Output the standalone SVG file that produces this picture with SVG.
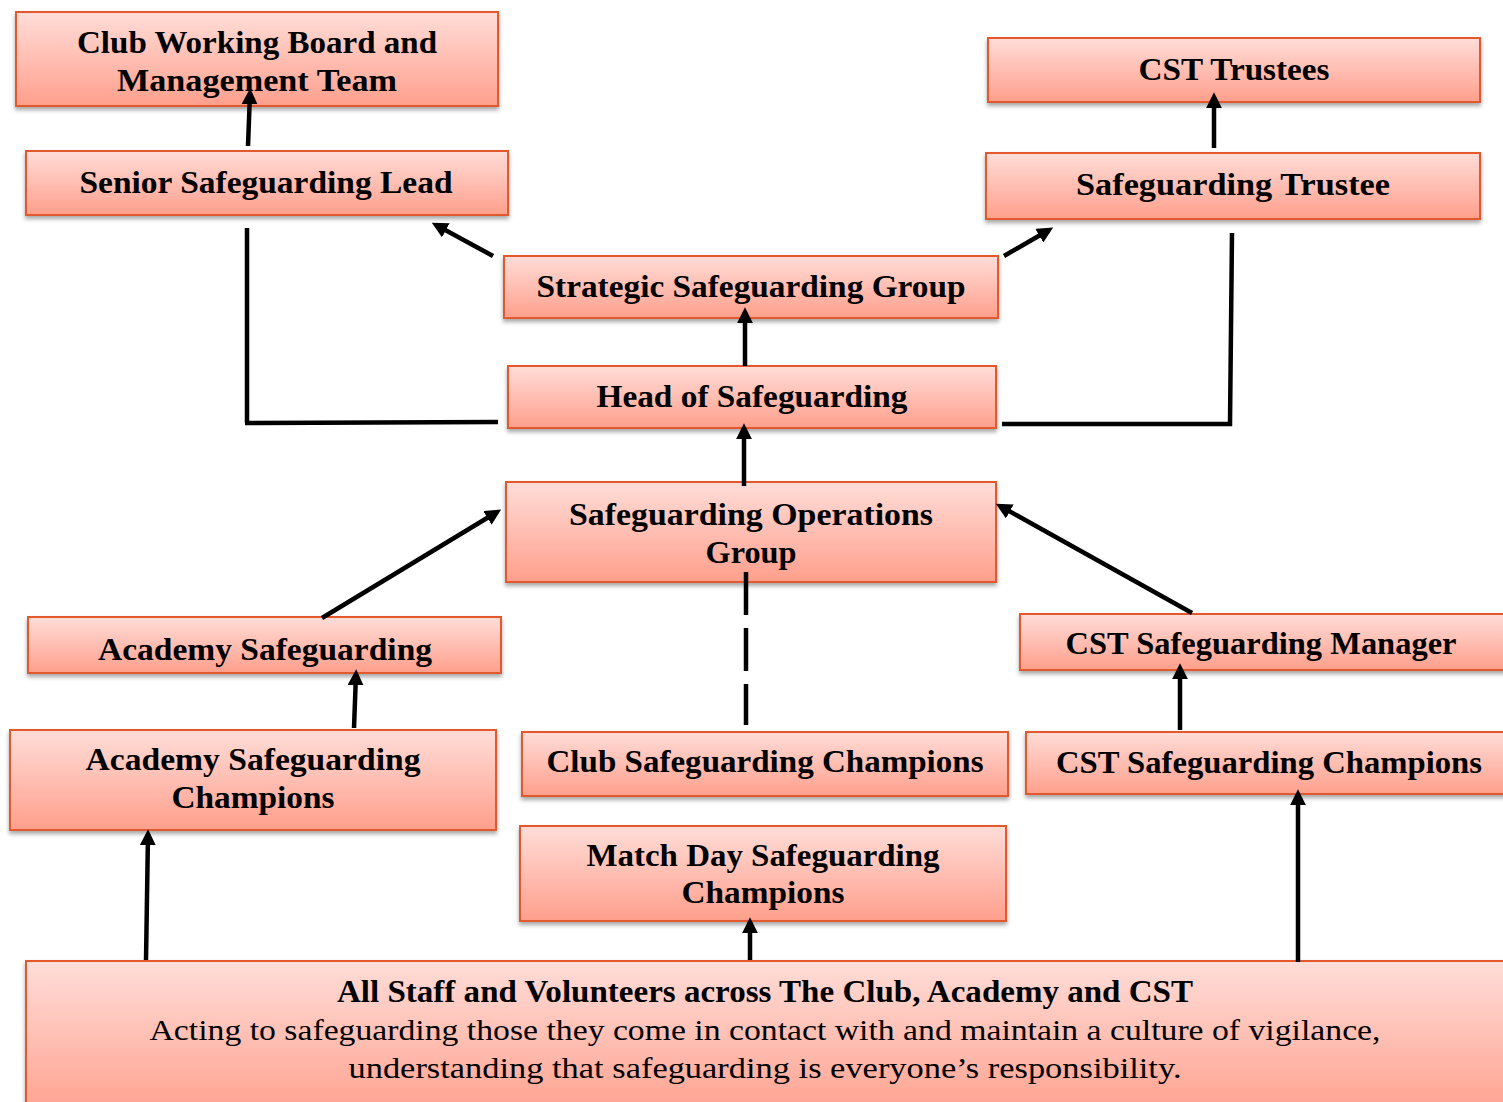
<svg xmlns="http://www.w3.org/2000/svg" width="1503" height="1102" viewBox="0 0 1503 1102">
<style>
.box{fill:url(#g);stroke:#E4592E;stroke-width:2;filter:url(#sh)}
.t{font-family:"Liberation Serif","Times New Roman",serif;font-weight:bold;font-size:32px;fill:#000;text-anchor:middle}
.r{font-family:"Liberation Serif","Times New Roman",serif;font-size:29px;fill:#000;text-anchor:middle}
.c{stroke:#000;stroke-width:4.5;fill:none}
.a{marker-end:url(#ah)}
</style>
<defs>
<linearGradient id="g" x1="0" y1="0" x2="0" y2="1">
<stop offset="0" stop-color="#FFDDD8"/>
<stop offset="1" stop-color="#FF9F8C"/>
</linearGradient>
<filter id="sh" x="-5%" y="-20%" width="110%" height="150%">
<feDropShadow dx="0" dy="3" stdDeviation="2" flood-color="#000" flood-opacity="0.35"/>
</filter>
<marker id="ah" viewBox="0 0 10 10" refX="7" refY="5" markerWidth="16" markerHeight="16" markerUnits="userSpaceOnUse" orient="auto">
<path d="M0,0 L10,5 L0,10 z" fill="#000"/>
</marker>
</defs>
<rect width="1503" height="1102" fill="#fff"/>

<g id="club-board"><rect class="box" x="16" y="12" width="482" height="94"/>
<text class="t" x="257" y="53" textLength="360" lengthAdjust="spacingAndGlyphs">Club Working Board and</text>
<text class="t" x="257" y="91" textLength="280" lengthAdjust="spacingAndGlyphs">Management Team</text></g>

<g id="senior-lead"><rect class="box" x="26" y="151" width="482" height="64"/>
<text class="t" x="266" y="193" textLength="373" lengthAdjust="spacingAndGlyphs">Senior Safeguarding Lead</text></g>

<g id="cst-trustees"><rect class="box" x="988" y="38" width="492" height="64"/>
<text class="t" x="1234" y="80" textLength="191" lengthAdjust="spacingAndGlyphs">CST Trustees</text></g>

<g id="safeguarding-trustee"><rect class="box" x="986" y="153" width="494" height="66"/>
<text class="t" x="1233" y="195" textLength="314" lengthAdjust="spacingAndGlyphs">Safeguarding Trustee</text></g>

<g id="strategic-group"><rect class="box" x="504" y="256" width="494" height="62"/>
<text class="t" x="751" y="297" textLength="429" lengthAdjust="spacingAndGlyphs">Strategic Safeguarding Group</text></g>

<g id="head"><rect class="box" x="508" y="366" width="488" height="62"/>
<text class="t" x="752" y="407" textLength="311" lengthAdjust="spacingAndGlyphs">Head of Safeguarding</text></g>

<g id="ops-group"><rect class="box" x="506" y="482" width="490" height="100"/>
<text class="t" x="751" y="525" textLength="364" lengthAdjust="spacingAndGlyphs">Safeguarding Operations</text>
<text class="t" x="751" y="563" textLength="91" lengthAdjust="spacingAndGlyphs">Group</text></g>

<g id="academy-safeguarding"><rect class="box" x="28" y="617" width="473" height="56"/>
<text class="t" x="265" y="660" textLength="334" lengthAdjust="spacingAndGlyphs">Academy Safeguarding</text></g>

<g id="academy-champions"><rect class="box" x="10" y="730" width="486" height="100"/>
<text class="t" x="253" y="770" textLength="335" lengthAdjust="spacingAndGlyphs">Academy Safeguarding</text>
<text class="t" x="253" y="808" textLength="163" lengthAdjust="spacingAndGlyphs">Champions</text></g>

<g id="club-champions"><rect class="box" x="522" y="732" width="486" height="64"/>
<text class="t" x="765" y="772" textLength="437" lengthAdjust="spacingAndGlyphs">Club Safeguarding Champions</text></g>

<g id="matchday-champions"><rect class="box" x="520" y="826" width="486" height="95"/>
<text class="t" x="763" y="866" textLength="353" lengthAdjust="spacingAndGlyphs">Match Day Safeguarding</text>
<text class="t" x="763" y="903" textLength="163" lengthAdjust="spacingAndGlyphs">Champions</text></g>

<g id="cst-manager"><rect class="box" x="1020" y="614" width="490" height="56"/>
<text class="t" x="1261" y="654" textLength="391" lengthAdjust="spacingAndGlyphs">CST Safeguarding Manager</text></g>

<g id="cst-champions"><rect class="box" x="1026" y="732" width="484" height="62"/>
<text class="t" x="1269" y="773" textLength="426" lengthAdjust="spacingAndGlyphs">CST Safeguarding Champions</text></g>

<g id="all-staff"><rect class="box" x="26" y="961" width="1490" height="160"/>
<text class="t" x="765" y="1002" textLength="856" lengthAdjust="spacingAndGlyphs">All Staff and Volunteers across The Club, Academy and CST</text>
<text class="r" x="765" y="1040" textLength="1231" lengthAdjust="spacingAndGlyphs">Acting to safeguarding those they come in contact with and maintain a culture of vigilance,</text>
<text class="r" x="765" y="1078" textLength="833" lengthAdjust="spacingAndGlyphs">understanding that safeguarding is everyone’s responsibility.</text></g>

<g id="connectors">
<path class="c a" d="M248,146 L250,93"/>
<path class="c a" d="M493,256 L436,225"/>
<path class="c a" d="M1004,256 L1049,230"/>
<path class="c a" d="M1214,148 L1214,97"/>
<path class="c a" d="M745,366 L745,312"/>
<path class="c a" d="M744,486 L744,428"/>
<path class="c a" d="M322,618 L497,512"/>
<path class="c a" d="M1192,613 L1000,506"/>
<path class="c a" d="M354,728 L356,674"/>
<path class="c a" d="M1180,730 L1180,668"/>
<path class="c a" d="M146,960 L148,834"/>
<path class="c a" d="M750,960 L750,922"/>
<path class="c a" d="M1298,962 L1298,794"/>
<path class="c" d="M247,228 L247,423 M245,423 L498,422"/>
<path class="c" d="M1232,233 L1230,424 L1002,424"/>
<path class="c" d="M746,572 L746,725" stroke-dasharray="43,13"/>
</g>
</svg>
